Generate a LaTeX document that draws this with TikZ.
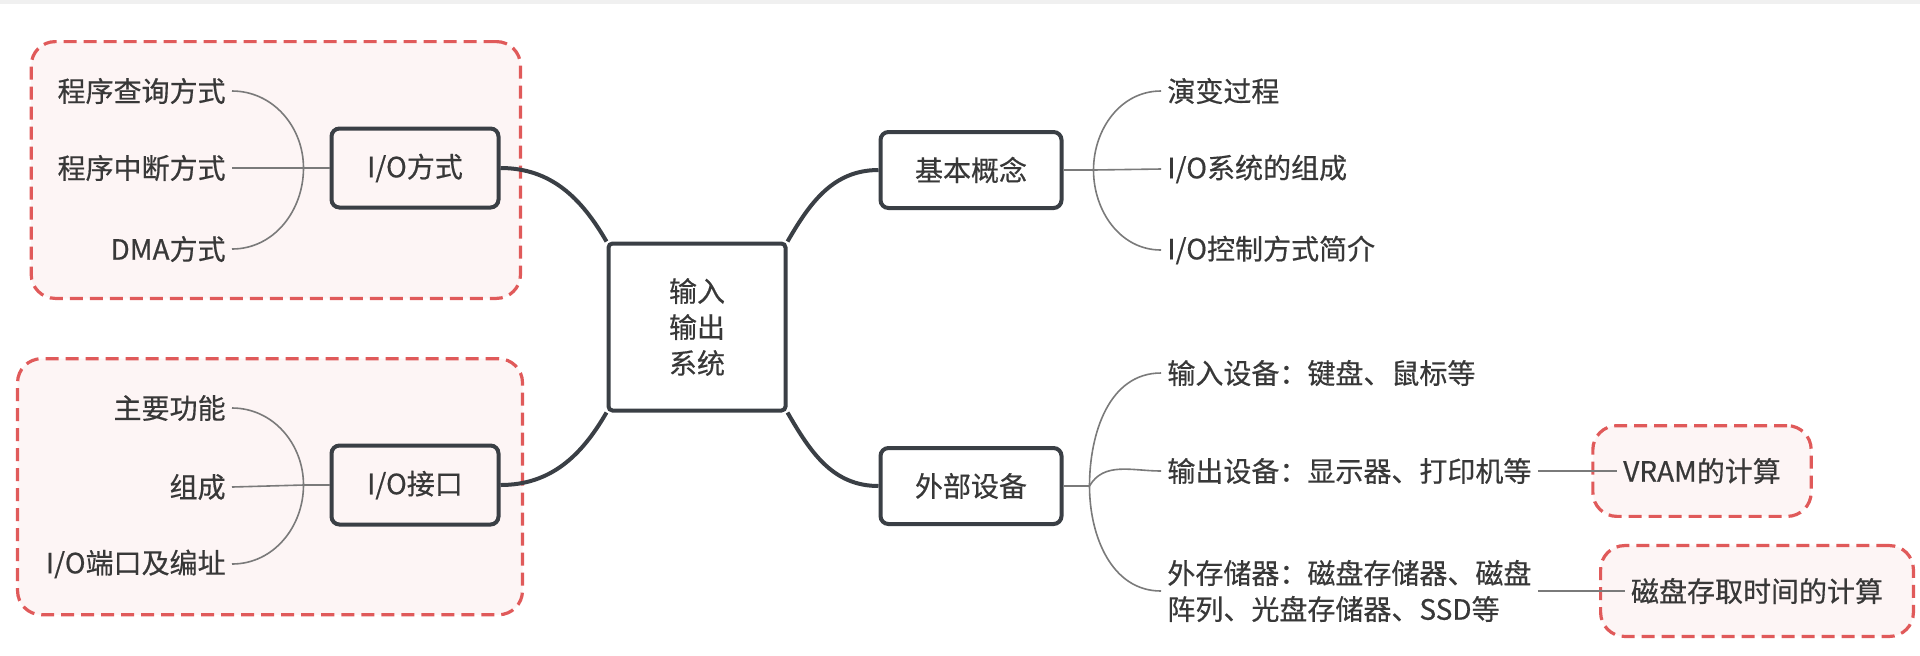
\documentclass[tikz,border=0pt]{standalone}
\usepackage{fontspec}
\setmainfont{Noto Sans CJK SC}[FakeBold=0.5]
\usepackage{xcolor}
\usepackage{tikz}
\usetikzlibrary{positioning,fit,backgrounds}
\definecolor{mink}{HTML}{3A3F45}
\definecolor{mtext}{HTML}{383838}
\definecolor{mtwig}{HTML}{7A7A7A}
\definecolor{mred}{HTML}{E05A5A}
\definecolor{mblush}{HTML}{FDF5F5}

\begin{document}
\begin{tikzpicture}[x=0.5pt,y=-0.5pt,
  every node/.style={text=mtext,font=\fontsize{14}{18}\selectfont},
  topic/.style={draw=mink,line width=2pt,rounded corners=4pt,
                minimum width=83.5pt,minimum height=39.5pt},
  hub/.style={draw=mink,line width=2pt,rounded corners=2pt,align=center,
              minimum width=88.5pt,minimum height=83.5pt},
  leaf/.style={inner sep=3pt,align=left},
  halo/.style={draw=mred,fill=mblush,line width=1.6pt,dash pattern=on 6.5pt off 3.5pt,
               rounded corners=12pt},
  limb/.style={draw=mink,line width=2pt},
  twig/.style={draw=mtwig,line width=0.8pt}]
  \useasboundingbox (0,0) rectangle (1920,655);
  \fill[black!6] (0,0) rectangle (1920,4);

  \node[hub] (root) at (697,327) {输入\\输出\\系统};

  \node[topic] (iofs) at (415,168) {I/O方式};
  \node[topic] (iojk) at (415,485) {I/O接口};
  \node[topic,minimum width=90.5pt,minimum height=38pt] (jbgn) at (971,170) {基本概念};
  \node[topic,minimum width=90.5pt,minimum height=38pt] (wbsb) at (971,486) {外部设备};

  \node[leaf,anchor=east] (cxcx) at (232,91) {程序查询方式};
  \node[leaf,anchor=east] (cxzd) at (232,168) {程序中断方式};
  \node[leaf,anchor=east] (dma) at (232,249) {DMA方式};
  \node[leaf,anchor=east] (zygn) at (232,408) {主要功能};
  \node[leaf,anchor=east] (zc) at (232,487) {组成};
  \node[leaf,anchor=east] (dkbz) at (232,564) {I/O端口及编址};

  \node[leaf,anchor=west] (ybgc) at (1161,91) {演变过程};
  \node[leaf,anchor=west] (xtzc) at (1161,169) {I/O系统的组成};
  \node[leaf,anchor=west] (kzfs) at (1161,250) {I/O控制方式简介};
  \node[leaf,anchor=west] (srsb) at (1161,373) {输入设备：键盘、鼠标等};
  \node[leaf,anchor=west] (scsb) at (1161,471) {输出设备：显示器、打印机等};
  \node[leaf,anchor=west] (wccq) at (1161,591) {外存储器：磁盘存储器、磁盘\\阵列、光盘存储器、SSD等};

  \node[leaf] (vram) at (1702,471) {VRAM的计算};
  \node[leaf] (cqsj) at (1757,591) {磁盘存取时间的计算};

  \begin{scope}[on background layer]
    \node[halo,inner xsep=10pt,inner ysep=15pt,fit=(cxcx)(dma)(iofs)] (zoneA) {};
    \node[halo,inner xsep=11pt,inner ysep=15pt,fit=(zygn)(dkbz)(iojk)] (zoneB) {};
    \node[halo,inner xsep=12pt,inner ysep=13pt,fit=(vram)] (zoneC) {};
    \node[halo,inner xsep=12pt,inner ysep=13pt,fit=(cqsj)] (zoneD) {};
  \end{scope}

  \coordinate[left=13pt of iofs] (iofs-j);
  \coordinate[left=13pt of iojk] (iojk-j);
  \coordinate[right=15pt of jbgn] (jbgn-j);
  \coordinate[right=13pt of wbsb] (wbsb-j);

  \draw[limb] (iofs.east) to[out=0,in=120] (root.north west);
  \draw[limb] (iojk.east) to[out=0,in=-120] (root.south west);
  \draw[limb] (root.north east) to[out=60,in=180] (jbgn.west);
  \draw[limb] (root.south east) to[out=-60,in=180] (wbsb.west);

  \draw[twig] (iofs.west) -- (iofs-j);
  \draw[twig] (iofs-j) to[out=90,in=0] (cxcx.east);
  \draw[twig] (iofs-j) -- (cxzd.east);
  \draw[twig] (iofs-j) to[out=-90,in=0] (dma.east);
  \draw[twig] (iojk.west) -- (iojk-j);
  \draw[twig] (iojk-j) to[out=90,in=0] (zygn.east);
  \draw[twig] (iojk-j) -- (zc.east);
  \draw[twig] (iojk-j) to[out=-90,in=0] (dkbz.east);

  \draw[twig] (jbgn.east) -- (jbgn-j);
  \draw[twig] (jbgn-j) to[out=90,in=180] (ybgc.west);
  \draw[twig] (jbgn-j) -- (xtzc.west);
  \draw[twig] (jbgn-j) to[out=-90,in=180] (kzfs.west);
  \draw[twig] (wbsb.east) -- (wbsb-j);
  \draw[twig] (wbsb-j) to[out=90,in=180] (srsb.west);
  \draw[twig] (wbsb-j) to[out=60,in=180] (scsb.west);
  \draw[twig] (wbsb-j) to[out=-90,in=180] (wccq.west);

  \draw[twig] (scsb.east) -- (vram.west);
  \draw[twig] (wccq.east) -- (cqsj.west);
\end{tikzpicture}
\end{document}
